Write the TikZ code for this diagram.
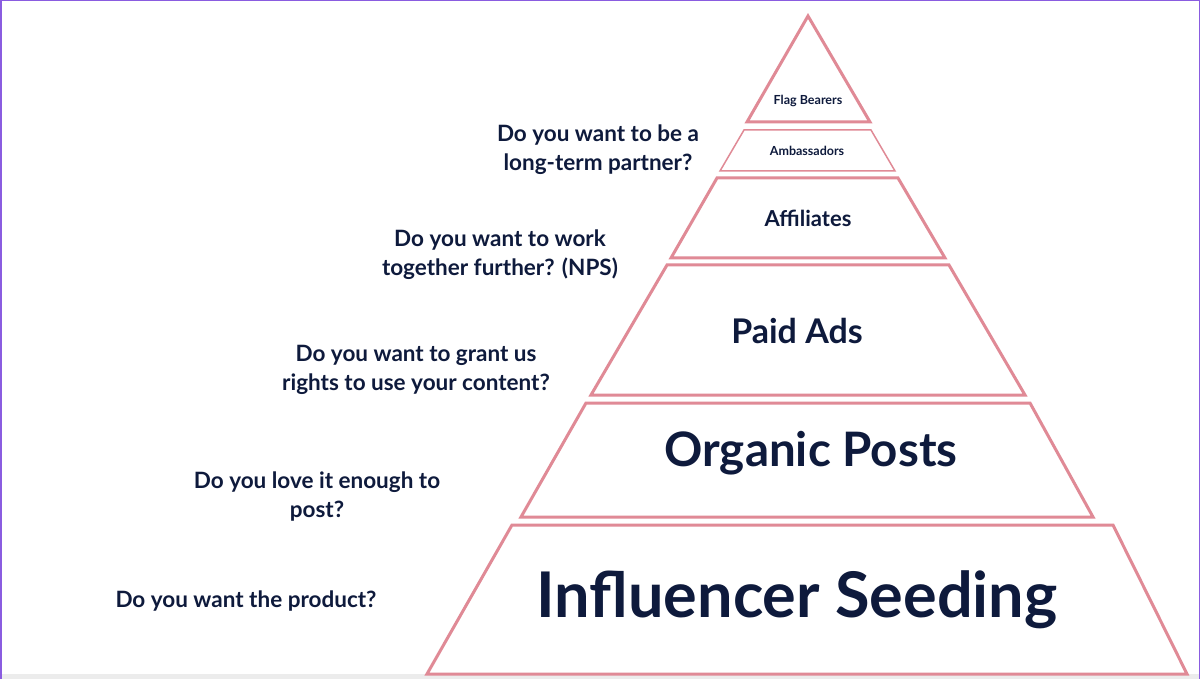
\documentclass[tikz,border=0pt]{standalone}
\usepackage{fontspec}
\setmainfont{Lato}
\definecolor{pk}{HTML}{E08A96}
\definecolor{nv}{HTML}{0E1A3C}
\definecolor{pu}{HTML}{8A5CE0}
\begin{document}
\begin{tikzpicture}[x=1pt,y=-1pt,
  tier/.style={draw=pk,line width=3pt,line join=miter},
  q/.style={text=nv,font=\bfseries\fontsize{22.5}{29}\selectfont,align=center},
  lab/.style={text=nv,font=\bfseries}]
\useasboundingbox (0,0) rectangle (1200,679);
\fill[white] (0,0) rectangle (1200,679);
\fill[gray!15] (0,674) rectangle (1200,679);
\draw[pu,line width=1.5pt] (0.75,679) -- (0.75,0.75) -- (1199.25,0.75) -- (1199.25,679);
\draw[tier] (808,16) -- (870,122) -- (747,122) -- cycle;
\draw[tier,line width=1.5pt] (744,130) -- (871,130) -- (895,171) -- (720,171) -- cycle;
\draw[tier] (717,178) -- (898,178) -- (945,258) -- (671,258) -- cycle;
\draw[tier] (667,265) -- (949,265) -- (1025,395) -- (591,395) -- cycle;
\draw[tier] (586,403) -- (1030,403) -- (1093,517) -- (521,517) -- cycle;
\draw[tier] (512,525) -- (1113,525) -- (1187,674) -- (427,674) -- cycle;
\node[lab,font=\bfseries\fontsize{12.5}{14}\selectfont] (fb) at (808,101) {Flag Bearers};
\node[lab,font=\bfseries\fontsize{12.5}{14}\selectfont] (am) at (807,151) {Ambassadors};
\node[lab,font=\bfseries\fontsize{22}{24}\selectfont] (af) at (808,218) {Affiliates};
\node[lab,font=\bfseries\fontsize{34}{36}\selectfont] (pa) at (797,331) {Paid Ads};
\node[lab,font=\bfseries\fontsize{47.5}{50}\selectfont] (op) at (811,453) {Organic Posts};
\node[lab,font=\bfseries\fontsize{63}{70}\selectfont] (is) at (797,600) {Influencer Seeding};
\node[q] (q1) at (598,150) {Do you want to be a\\long-term partner?};
\node[q] (q2) at (500,255) {Do you want to work\\together further? (NPS)};
\node[q] (q3) at (416,370) {Do you want to grant us\\rights to use your content?};
\node[q] (q4) at (317,497) {Do you love it enough to\\post?};
\node[q] (q5) at (246,601) {Do you want the product?};
\end{tikzpicture}
\end{document}
